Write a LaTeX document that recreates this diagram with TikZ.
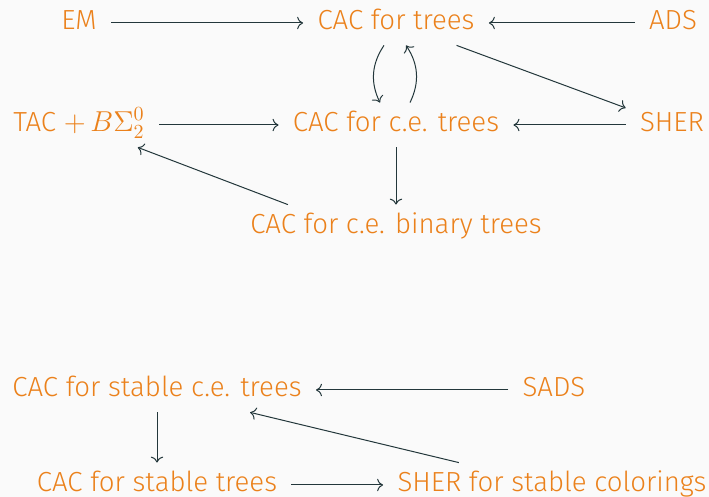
\documentclass[tikz,border=0pt]{standalone}
\usepackage[no-math]{fontspec}
\setmainfont{Fira Sans Light}
\usepackage{tikz}
\usetikzlibrary{arrows.meta}
\definecolor{mOrange}{HTML}{EB811B}
\definecolor{mDarkTeal}{HTML}{23373B}
\definecolor{mBack}{HTML}{FAFAFA}

\begin{document}
\begin{tikzpicture}[
  x=0.5pt, y=0.5pt,
  stmt/.style={text=mOrange, font=\fontsize{13.8}{16}\selectfont, inner xsep=7pt,
               inner ysep=0pt, text height=1.6ex, text depth=0.4ex, minimum height=22pt},
  arrow/.style={-{To[scale=1.1]}, draw=mDarkTeal, line width=0.5pt}
]
  \fill[mBack] (0,0) rectangle (709,497);
  \useasboundingbox (0,0) rectangle (709,497);

  % upper diagram
  \node[stmt] (em)    at (79,474)  {EM};
  \node[stmt] (cacT)  at (396,474) {CAC for trees};
  \node[stmt] (ads)   at (673,474) {ADS};
  \node[stmt] (tac)   at (79,372)  {TAC $+\,B\Sigma^0_2$};
  \node[stmt] (cacCE) at (396,372) {CAC for c.e. trees};
  \node[stmt] (sher)  at (672,372) {SHER};
  \node[stmt] (cacBin) at (396,270) {CAC for c.e. binary trees};

  \draw[arrow] (em) -- (cacT);
  \draw[arrow] (ads) -- (cacT);
  \draw[arrow] (cacT) -- (sher);
  \draw[arrow] ([xshift=-6pt]cacT.south) to[bend right=30] ([xshift=-8pt]cacCE.north);
  \draw[arrow] ([xshift=7pt]cacCE.north) to[bend right=30] ([xshift=5pt]cacT.south);
  \draw[arrow] (tac) -- (cacCE);
  \draw[arrow] (sher) -- (cacCE);
  \draw[arrow] (cacCE) -- (cacBin);
  \draw[arrow] ([xshift=26pt]cacBin.north west) -- (tac);

  % stable versions
  \node[stmt] (stCE)   at (157,107) {CAC for stable c.e. trees};
  \node[stmt] (sads)   at (554,107) {SADS};
  \node[stmt] (stT)    at (157,12)  {CAC for stable trees};
  \node[stmt] (sherSt) at (552,12)  {SHER for stable colorings};

  \draw[arrow] (sads) -- (stCE);
  \draw[arrow] (stCE) -- (stT);
  \draw[arrow] (stT) -- (sherSt);
  \draw[arrow] (sherSt) -- (stCE);
\end{tikzpicture}
\end{document}
